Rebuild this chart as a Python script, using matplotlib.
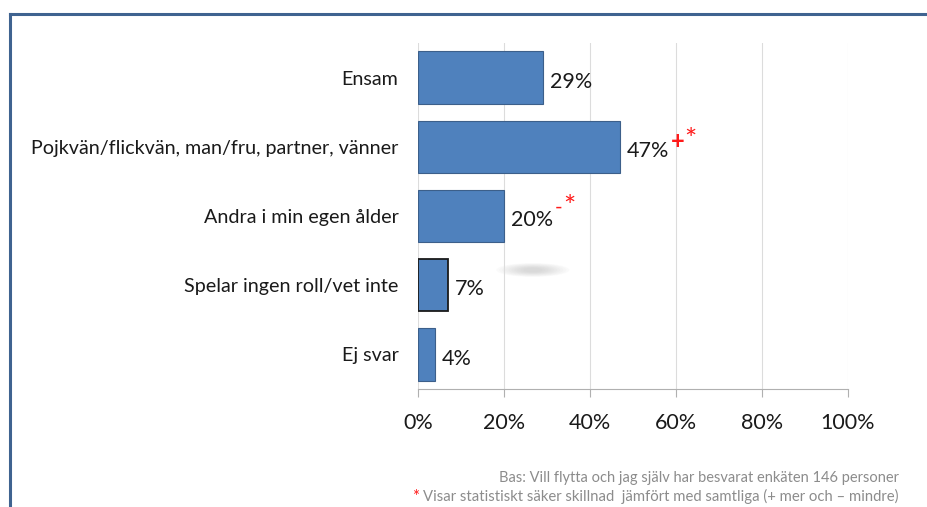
import matplotlib
matplotlib.use('Agg')
import matplotlib.pyplot as plt
from matplotlib.lines import Line2D
from matplotlib.patches import Ellipse

plt.rcParams['font.family'] = ['Lato', 'DejaVu Sans']

# svarsalternativ och andel (%)
categories = ['Ensam', 'Pojkvän/flickvän, man/fru, partner, vänner',
              'Andra i min egen ålder', 'Spelar ingen roll/vet inte', 'Ej svar']
values = [29, 47, 20, 7, 4]
signif = ['', '+', '-', '', '']
xticks = [0, 20, 40, 60, 80, 100]

fig = plt.figure(figsize=(9.28, 5.07), dpi=100)
ax = fig.add_axes([418 / 928, 1 - 389 / 507, 430 / 928, 346 / 507])

ypos = list(range(len(categories)))
for i, v in enumerate(values):
    edge = '#1a1a1a' if i == 3 else '#3c5f8a'
    lw = 1.3 if i == 3 else 0.8
    ax.barh(ypos[i], v, height=0.76, color='#4f81bd', edgecolor=edge, linewidth=lw, zorder=3)
    lab = ax.text(v + 1.6, ypos[i] + 0.06, f'{v}%', va='center', ha='left', fontsize=15.5, color='#1a1a1a')
    if signif[i] == '+':
        # plus och stjärna upphöjt efter procenttalet
        ax.annotate('+', xy=(1, 0.5), xycoords=lab, xytext=(1, 7), textcoords='offset points',
                    color='#ff1a1a', fontsize=17, fontweight='bold', va='center', ha='left')
        ax.annotate('*', xy=(1, 0.5), xycoords=lab, xytext=(10.5, 7), textcoords='offset points',
                    color='#ff1a1a', fontsize=21, va='center', ha='left')
    elif signif[i] == '-':
        ax.annotate('-', xy=(1, 0.5), xycoords=lab, xytext=(1.5, 9), textcoords='offset points',
                    color='#ff1a1a', fontsize=15, va='center', ha='left')
        ax.annotate('*', xy=(1, 0.5), xycoords=lab, xytext=(7.5, 9), textcoords='offset points',
                    color='#ff1a1a', fontsize=21, va='center', ha='left')

ax.set_xlim(0, 100)
ax.set_ylim(4.5, -0.5)
ax.set_xticks(xticks)
ax.set_xticklabels([f'{t}%' for t in xticks], fontsize=15.5, color='#1a1a1a')
ax.set_yticks(ypos)
ax.set_yticklabels(categories, fontsize=14.2, color='#1a1a1a')
ax.tick_params(axis='y', length=0, pad=14)
ax.tick_params(axis='x', length=6, color='#b0b0b0', pad=11)
ax.grid(axis='x', color='#dcdcdc', linewidth=0.8, zorder=0)
for s in ['top', 'right', 'left']:
    ax.spines[s].set_visible(False)
ax.spines['bottom'].set_color('#b0b0b0')

# suddig grå fläck
for k in range(10):
    ax.add_patch(Ellipse((26.7, 2.78), 17 - k * 1.4, 0.2 - k * 0.015, color='#a0a0a0',
                         alpha=0.045, lw=0, zorder=1))

# ram runt diagrammet
fig.add_artist(Line2D([10 / 928, 10 / 928], [0, 1 - 14 / 507], color='#3f6390', lw=2.2))
fig.add_artist(Line2D([10 / 928, 1], [1 - 14 / 507, 1 - 14 / 507], color='#3f6390', lw=2.2))

fig.text(899 / 928, 1 - 478 / 507, 'Bas: Vill flytta och jag själv har besvarat enkäten 146 personer',
         ha='right', va='center', fontsize=10.5, color='#8c8c8c')
fig.text(899 / 928, 1 - 496 / 507, 'Visar statistiskt säker skillnad  jämfört med samtliga (+ mer och – mindre)',
         ha='right', va='center', fontsize=10.7, color='#8c8c8c')
fig.text(419 / 928, 1 - 497 / 507, '*', ha='right', va='center', fontsize=12, color='#ff1a1a')

fig.savefig('out.png', dpi=100, facecolor='white')
